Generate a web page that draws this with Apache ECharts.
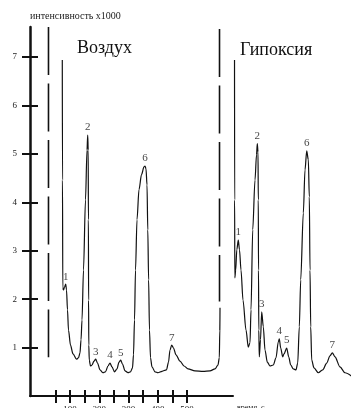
<!DOCTYPE html>
<html>
<head>
<meta charset="utf-8">
<script src="https://cdn.jsdelivr.net/npm/echarts@6/dist/echarts.min.js"></script>
<style>
html,body{margin:0;padding:0;background:#fff;}
#chart{width:351px;height:408px;}
</style>
</head>
<body>
<div id="chart"></div>
<script>
// хроматограммы: время (с) и интенсивность x1000
var airTrace = [
  [73.4,6.94],[74.1,4.46],[75.1,2.23],[77.5,2.19],[81.0,2.25],[85.1,2.31],[87.8,2.19],[91.2,1.78],
  [94.6,1.36],[101.5,1.05],[110,0.87],[122,0.76],[128.8,0.79],[133.9,0.89],[137.4,1.16],[140.8,1.57],
  [145.9,2.60],[152.7,4.05],[157.9,5.08],[160.3,5.39],[162,5.08],[162.7,3.64],[163.3,1.98],[164,1.05],
  [165.7,0.74],[169.8,0.62],[175,0.64],[181.8,0.72],[187.6,0.76],[193.8,0.68],[202.3,0.54],[212.6,0.48],
  [221.1,0.50],[229.7,0.62],[236.5,0.68],[243.3,0.60],[251.9,0.50],[260.4,0.56],[267.3,0.70],[273.1,0.74],
  [279.2,0.66],[287.8,0.52],[298,0.48],[306.6,0.50],[313.4,0.58],[316.8,0.85],[320.3,1.57],[323.7,2.60],
  [328.8,3.64],[335.6,4.26],[344.2,4.57],[352.7,4.73],[356.2,4.75],[359.6,4.69],[363,4.36],[365.7,3.43],
  [368.5,2.40],[371.5,1.36],[375,0.79],[380.1,0.60],[390.4,0.50],[400.6,0.48],[414.3,0.51],[429.7,0.54],
  [436.5,0.70],[441.6,0.95],[447.4,1.05],[453.6,0.99],[462.1,0.85],[475.8,0.72],[489.5,0.62],[503.2,0.56],
  [527.1,0.52],[554.5,0.51],[578.4,0.52],[595.5,0.56],[605.7,0.64],[610.2,0.79],[611.9,1.36],[612.6,1.82]
];
var hypoxiaTrace = [
  [662.2,6.94],[662.6,4.05],[663.2,2.44],[666.2,2.60],[670.0,3.02],[675.1,3.22],[679.2,3.02],[684.4,2.60],
  [691.2,1.98],[701.5,1.36],[709.3,1.01],[715.1,1.10],[718.6,1.78],[724.4,3.43],[732.2,4.46],[737.4,4.98],
  [740.1,5.21],[742.5,5.04],[743.5,4.05],[744.2,2.60],[745.2,1.36],[746.9,0.81],[751.0,1.16],[755.1,1.74],
  [760.6,1.43],[766.4,0.95],[774.3,0.70],[783.5,0.62],[794.8,0.64],[804.0,0.79],[811.9,1.12],[815.3,1.18],
  [820.1,0.99],[826.9,0.81],[831.4,0.87],[840.6,0.99],[847.4,0.81],[854.3,0.64],[863.2,0.56],[872.4,0.54],
  [878.2,0.68],[883.7,1.43],[888.5,2.40],[897.4,3.78],[903.2,4.67],[909.0,5.06],[914.5,4.88],[917.9,4.11],
  [920.3,2.60],[922.7,1.43],[926.1,0.74],[933.9,0.58],[948.6,0.48],[963.7,0.54],[977.4,0.68],[988.6,0.83],
  [996.5,0.89],[1005.7,0.81],[1022.8,0.60],[1039.9,0.48],[1062.8,0.41]
];
var airPeaks = [[85.1,2.31,'1'],[160.3,5.39,'2'],[187.6,0.76,'3'],[236.5,0.68,'4'],[273.1,0.74,'5'],[356.2,4.75,'6'],[447.4,1.05,'7']];
var hypoxiaPeaks = [[675.1,3.22,'1'],[740.1,5.21,'2'],[755.1,1.74,'3'],[815.3,1.18,'4'],[840.6,0.99,'5'],[909.0,5.06,'6'],[996.5,0.89,'7']];
var breakLeft = [[26.2,7.62],[26.2,0.8]];
var breakRight = [[610.9,7.58],[610.9,1.95]];
var yTicks = [1,2,3,4,5,6,7];
var xTicks = [50,100,150,200,250,300,350,400,450,500];
var xLabels = [100,200,300,400,500];

var X_MIN = -37, X_AXIS_MAX = 657, Y_MAX = 7.62;
var X_FULL_MAX = X_MIN + (X_AXIS_MAX - X_MIN) * 321 / 203;
var serif = '"Liberation Serif", "DejaVu Serif", serif';

var chart = echarts.init(document.getElementById('chart'));

function traceSeries(data){
  return {
    type:'line', xAxisIndex:1, yAxisIndex:1, data:data, showSymbol:false,
    smooth:0.3, smoothMonotone:'x', animation:false,
    lineStyle:{color:'#111', width:1.2}
  };
}
function peakSeries(data){
  return {
    type:'scatter', xAxisIndex:1, yAxisIndex:1, data:data, symbolSize:0, animation:false,
    label:{show:true, position:'top', distance:2, formatter:function(p){return p.value[2];},
      fontFamily:serif, fontSize:11, color:'#111'}
  };
}
function breakSeries(data){
  return {
    type:'line', xAxisIndex:1, yAxisIndex:1, data:data, showSymbol:false, animation:false,
    lineStyle:{color:'#111', width:1.6, type:[48,8.5]}
  };
}

chart.setOption({
  backgroundColor:'#fff',
  grid:[
    {left:30, top:27, width:203, bottom:12, containLabel:false, outerBoundsMode:'none'},
    {left:30, top:27, right:0, bottom:12, containLabel:false, outerBoundsMode:'none'}
  ],
  xAxis:[
    {gridIndex:0, type:'value', min:X_MIN, max:X_AXIS_MAX,
     axisLine:{onZero:false, lineStyle:{color:'#111', width:2}},
     axisTick:{length:7, lineStyle:{width:2, color:'#111'}, customValues:xTicks},
     axisLabel:{customValues:xLabels, margin:9, fontFamily:serif, fontSize:9, color:'#222'},
     splitLine:{show:false},
     name:'время, с', nameLocation:'end', nameGap:4,
     nameTextStyle:{fontFamily:serif, fontSize:8, color:'#222', align:'left', verticalAlign:'top', padding:[8,0,0,0]}},
    {gridIndex:1, type:'value', min:X_MIN, max:X_FULL_MAX,
     axisLine:{show:false, onZero:false},
     axisTick:{inside:true, length:6, lineStyle:{width:2, color:'#111'}, customValues:xTicks},
     axisLabel:{show:false}, splitLine:{show:false}}
  ],
  yAxis:[
    {gridIndex:0, type:'value', min:0, max:Y_MAX,
     axisLine:{show:false, onZero:false},
     axisTick:{inside:true, length:8, lineStyle:{width:2, color:'#111'}, customValues:yTicks},
     axisLabel:{show:false}, splitLine:{show:false}},
    {gridIndex:1, type:'value', min:0, max:Y_MAX,
     axisLine:{show:true, onZero:false, lineStyle:{color:'#111', width:2.5}},
     axisTick:{show:true, length:8, lineStyle:{width:2, color:'#111'}, customValues:yTicks},
     axisLabel:{customValues:yTicks, margin:13, fontFamily:serif, fontSize:9, color:'#222'},
     splitLine:{show:false},
     name:'интенсивность x1000', nameLocation:'end', nameGap:6,
     nameTextStyle:{fontFamily:serif, fontSize:10, color:'#222', align:'left', verticalAlign:'bottom'}}
  ],
  graphic:[
    {type:'text', left:77, top:39, style:{text:'Воздух', font:'18px ' + serif, fill:'#111'}},
    {type:'text', left:240, top:41, style:{text:'Гипоксия', font:'18px ' + serif, fill:'#111'}}
  ],
  series:[
    breakSeries(breakLeft),
    breakSeries(breakRight),
    traceSeries(airTrace),
    traceSeries(hypoxiaTrace),
    peakSeries(airPeaks),
    peakSeries(hypoxiaPeaks)
  ]
});
</script>
</body>
</html>
